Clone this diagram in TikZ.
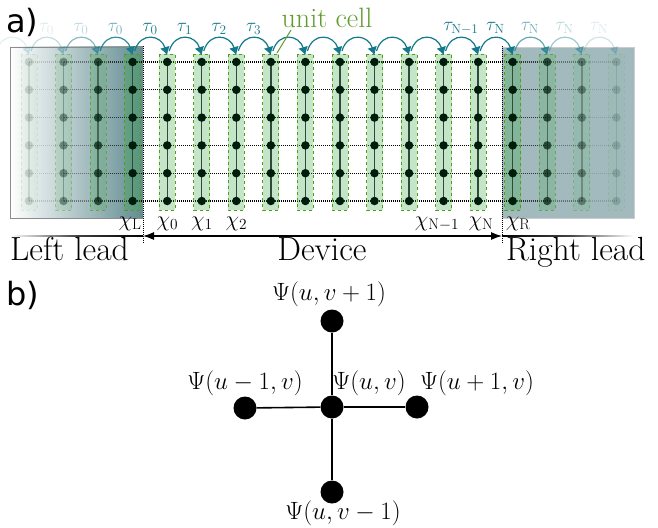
\RequirePackage{fix-cm}
\documentclass[tikz,border=0pt]{standalone}
\usepackage{fontspec}
\newfontfamily\labelfont{DejaVu Sans}
\usetikzlibrary{arrows.meta}
\definecolor{tealc}{RGB}{18,122,138}
\definecolor{boxfill}{RGB}{60,170,70}
\definecolor{boxedge}{RGB}{80,160,20}
\definecolor{dotc}{RGB}{0,28,10}
\definecolor{vlinec}{RGB}{45,75,55}
\definecolor{leadL}{RGB}{98,140,145}
\definecolor{leadR}{RGB}{162,186,190}
\definecolor{cellgreen}{RGB}{95,155,45}
\tikzset{
  dotn/.style={circle,fill=dotc,inner sep=0pt,minimum size=8.5pt},
  cellbox/.style={draw=boxedge,fill=boxfill,dashed,line width=0.9pt},
  hdot/.style={black,line width=1.1pt,dash pattern=on 1pt off 1pt},
  vline/.style={vlinec,line width=1.4pt},
  hop/.style={tealc,line width=1.2pt,-{Latex[length=8pt,width=10pt]}},
  taulab/.style={text=tealc,anchor=base,inner sep=0pt,font=\fontsize{19}{22}\selectfont},
  chilab/.style={anchor=base,inner sep=0pt,font=\fontsize{22}{26}\selectfont},
  biglab/.style={inner sep=0pt,font=\fontsize{33.5}{38}\selectfont,anchor=base},
  psilab/.style={inner sep=0pt,font=\fontsize{25}{29}\selectfont},
  bigdot/.style={circle,fill=black,inner sep=0pt,minimum size=23pt},
  bline/.style={black,line width=1.6pt},
  sepline/.style={black,line width=1pt,densely dotted},
  panel/.style={anchor=base west,inner sep=0pt,font=\labelfont\fontsize{32}{38}\selectfont}
}
\begin{document}
\begin{tikzpicture}[x=1pt,y=-1pt]
\useasboundingbox (0,0) rectangle (658,527);

% leads
\shade[left color=white,right color=leadL] (10,47) rectangle (143,218);
\draw[black!45,line width=0.8pt] (143,47) -- (10,47) -- (10,218) -- (143,218);
\fill[leadR] (502,47) rectangle (634,218);
\draw[black!20,line width=0.8pt] (502,47) -- (634,47) -- (634,218) -- (502,218);

% lattice coordinates
\foreach \i in {0,...,17}{
  \pgfmathsetmacro\x{29+34.55*\i}
  \foreach \j in {0,...,5}{
    \coordinate (c\i-\j) at (\x,{62+27.8*\j});
  }
}

% horizontal dotted bonds
\foreach \i/\op in {0/0.15,1/0.4,2/0.7,3/1,4/1,5/1,6/1,7/1,8/1,9/1,10/1,11/1,12/1,13/1,14/0.7,15/0.4,16/0.15}{
  \pgfmathtruncatemacro\k{\i+1}
  \foreach \j in {0,...,5}{
    \draw[hdot,opacity=\op] (c\i-\j) -- (c\k-\j);
  }
}

% unit cells
\foreach \i/\op in {0/0.15,1/0.4,2/0.7,3/1,4/1,5/1,6/1,7/1,8/1,9/1,10/1,11/1,12/1,13/1,14/1,15/0.7,16/0.4,17/0.15}{
  \pgfmathsetmacro\x{29+34.55*\i}
  \pgfmathsetmacro\fop{0.3*\op}
  \draw[cellbox,draw opacity=\op,fill opacity=\fop] (\x-8,54) rectangle (\x+8,210);
  \draw[vline,opacity=\op] (c\i-0) -- (c\i-5);
  \foreach \j in {0,...,5}{
    \node[dotn,opacity=\op] (d\i-\j) at (c\i-\j) {};
  }
}

% separators
\coordinate (sLt) at (143,46); \coordinate (sLb) at (143,244);
\coordinate (sRt) at (502,46); \coordinate (sRb) at (502,244);
\draw[sepline] (sLt) -- (sLb);
\draw[sepline] (sRt) -- (sRb);

% hopping arcs
\foreach \i/\op in {0/0.12,1/0.25,2/0.5,3/0.85,4/1,5/1,6/1,7/1,8/1,9/1,10/1,11/1,12/1,13/1,14/1,15/0.65,16/0.4,17/0.2}{
  \pgfmathsetmacro\xs{29+34.55*(\i-1)+2}
  \pgfmathsetmacro\xe{29+34.55*\i}
  \coordinate (as\i) at (\xs,51);
  \coordinate (ae\i) at (\xe,55);
  \draw[hop,opacity=\op] (as\i) .. controls +(6,-20) and +(-6,-20) .. (ae\i);
}

% tau labels
\node[taulab,opacity=0.15] (t1) at (46.3,32) {$\tau_0$};
\node[taulab,opacity=0.3] (t2) at (80.9,32) {$\tau_0$};
\node[taulab,opacity=0.6] (t3) at (115.4,32) {$\tau_0$};
\node[taulab] (t4) at (150,32) {$\tau_0$};
\node[taulab] (t5) at (184.5,32) {$\tau_1$};
\node[taulab] (t6) at (219,32) {$\tau_2$};
\node[taulab] (t7) at (253.6,32) {$\tau_3$};
\node[taulab] (t13) at (460.9,31) {$\tau_{\mathrm{N}-1}$};
\node[taulab] (t14) at (495.4,31) {$\tau_{\mathrm{N}}$};
\node[taulab,opacity=0.6] (t15) at (530,31) {$\tau_{\mathrm{N}}$};
\node[taulab,opacity=0.3] (t16) at (564.5,31) {$\tau_{\mathrm{N}}$};
\node[taulab,opacity=0.15] (t17) at (599,31) {$\tau_{\mathrm{N}}$};

% unit cell label
\node[anchor=base,inner sep=0pt,text=cellgreen,font=\fontsize{28}{32}\selectfont] (ucl) at (327,28) {unit cell};
\coordinate (ucs) at (291,30);
\coordinate (uce) at (277,53);
\draw[cellgreen,line width=1pt] (ucs) -- (uce);

% chi labels
\node[chilab] (xL) at (130,226) {$\chi_{\mathrm{L}}$};
\node[chilab] (x0) at (167.5,226) {$\chi_0$};
\node[chilab] (x1) at (202,226) {$\chi_1$};
\node[chilab] (x2) at (236.5,226) {$\chi_2$};
\node[chilab] (xNm) at (437,226) {$\chi_{\mathrm{N}-1}$};
\node[chilab] (xN) at (481,226) {$\chi_{\mathrm{N}}$};
\node[chilab] (xR) at (518,226) {$\chi_{\mathrm{R}}$};

% device arrow
\coordinate (aL) at (143,236);
\coordinate (aR) at (502,236);
\shade[left color=white,right color=black,middle color=black!75] (10,235.4) rectangle (143,236.6);
\shade[left color=black,right color=white,middle color=black!75] (502,235.4) rectangle (634,236.6);
\draw[line width=1.2pt,{Latex[length=11pt,width=8pt]}-{Latex[length=11pt,width=8pt]}] (aL) -- (aR);

\node[biglab,anchor=base west] (ll) at (10,260) {Left lead};
\node[biglab] (dev) at (322,260) {Device};
\node[biglab,anchor=base west] (rl) at (506,260) {Right lead};

% panel labels
\node[panel] (pa) at (6,33) {a)};
\node[panel] (pbl) at (6,305) {b)};

% part b
\node[bigdot] (pc) at (332,407) {};
\node[bigdot] (pt) at (332,321) {};
\node[bigdot] (pl) at (245,408) {};
\node[bigdot] (pr) at (417,407) {};
\node[bigdot] (pb) at (332,492) {};
\draw[bline] (pc) -- (pt);
\draw[bline] (pc) -- (pl);
\draw[bline] (pc) -- (pr);
\draw[bline] (pc) -- (pb);

\node[psilab] (lt) at (329,294) {$\Psi(u,v+1)$};
\node[psilab] (lleft) at (245,383) {$\Psi(u-1,v)$};
\node[psilab] (lc) at (369,383) {$\Psi(u,v)$};
\node[psilab] (lright) at (477,383) {$\Psi(u+1,v)$};
\node[psilab] (lb) at (343,513) {$\Psi(u,v-1)$};
\end{tikzpicture}
\end{document}
